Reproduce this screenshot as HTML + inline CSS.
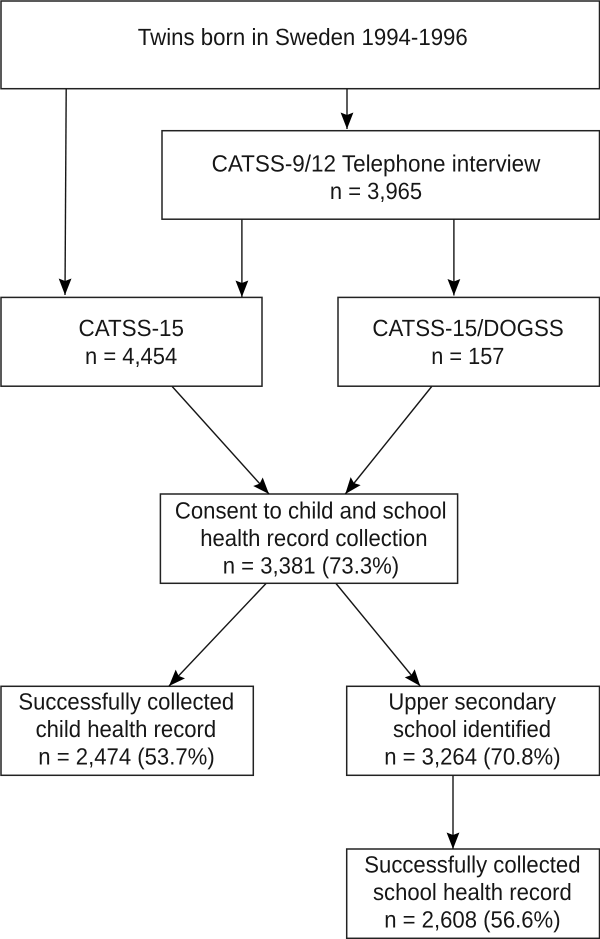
<!DOCTYPE html>
<html lang="en"><head><meta charset="utf-8"><title>Flow diagram</title>
<style>html,body{margin:0;padding:0;background:#fff}svg{display:block}
text{font-family:"Liberation Sans",Arial,sans-serif;font-size:23.5px;fill:#161616;text-rendering:geometricPrecision}
rect{fill:#fff;stroke:#222;stroke-width:1.5}
line{stroke:#161616;stroke-width:1.4}
</style></head><body>
<svg width="600" height="939" viewBox="0 0 600 939" xmlns="http://www.w3.org/2000/svg">
<defs><marker id="a" markerUnits="userSpaceOnUse" markerWidth="20" markerHeight="16" refX="17" refY="8" orient="auto" viewBox="0 0 20 16"><path d="M0.5 1.6L17 8L0.5 14.4L3 8Z" fill="#000"/></marker></defs>
<rect x="1" y="1" width="598.5" height="87.7"/>
<rect x="162" y="130.7" width="437.5" height="88.5"/>
<rect x="1" y="297.4" width="261" height="88.8"/>
<rect x="338" y="297.4" width="261.5" height="88.8"/>
<rect x="160.4" y="494" width="297.2" height="89.3"/>
<rect x="1" y="686.3" width="252.3" height="89"/>
<rect x="346.7" y="686.3" width="252.8" height="89"/>
<rect x="346.7" y="849" width="252.8" height="89.3"/>
<line x1="66.2" y1="89" x2="65" y2="295" marker-end="url(#a)"/>
<line x1="347" y1="89" x2="347" y2="129" marker-end="url(#a)"/>
<line x1="241.9" y1="219.5" x2="241.9" y2="297" marker-end="url(#a)"/>
<line x1="453.9" y1="219.5" x2="453.9" y2="295.5" marker-end="url(#a)"/>
<line x1="172.2" y1="386.5" x2="269" y2="494" marker-end="url(#a)"/>
<line x1="431.7" y1="386.5" x2="345.3" y2="494" marker-end="url(#a)"/>
<line x1="266" y1="583.5" x2="169" y2="686" marker-end="url(#a)"/>
<line x1="336" y1="583.5" x2="420.2" y2="686" marker-end="url(#a)"/>
<line x1="453" y1="775.5" x2="453" y2="849" marker-end="url(#a)"/>
<text x="137.8" y="45" textLength="330" lengthAdjust="spacingAndGlyphs">Twins born in Sweden 1994-1996</text>
<text x="211.6" y="171.3" textLength="328.8" lengthAdjust="spacingAndGlyphs">CATSS-9/12 Telephone interview</text>
<text x="329.9" y="199" textLength="92.2" lengthAdjust="spacingAndGlyphs">n = 3,965</text>
<text x="78.5" y="336" textLength="105.5" lengthAdjust="spacingAndGlyphs">CATSS-15</text>
<text x="85" y="364" textLength="92.2" lengthAdjust="spacingAndGlyphs">n = 4,454</text>
<text x="372.4" y="336" textLength="191.3" lengthAdjust="spacingAndGlyphs">CATSS-15/DOGSS</text>
<text x="431.3" y="364" textLength="73.1" lengthAdjust="spacingAndGlyphs">n = 157</text>
<text x="174.9" y="518.3" textLength="271.7" lengthAdjust="spacingAndGlyphs">Consent to child and school</text>
<text x="200.2" y="546" textLength="227.3" lengthAdjust="spacingAndGlyphs">health record collection</text>
<text x="222.7" y="573.5" textLength="176.5" lengthAdjust="spacingAndGlyphs">n = 3,381 (73.3%)</text>
<text x="18.4" y="709.3" textLength="215.8" lengthAdjust="spacingAndGlyphs">Successfully collected</text>
<text x="35.6" y="737" textLength="180.6" lengthAdjust="spacingAndGlyphs">child health record</text>
<text x="38.3" y="764.3" textLength="176.4" lengthAdjust="spacingAndGlyphs">n = 2,474 (53.7%)</text>
<text x="388.4" y="709.3" textLength="167.6" lengthAdjust="spacingAndGlyphs">Upper secondary</text>
<text x="393" y="737" textLength="158" lengthAdjust="spacingAndGlyphs">school identified</text>
<text x="384.2" y="764.3" textLength="176.4" lengthAdjust="spacingAndGlyphs">n = 3,264 (70.8%)</text>
<text x="364.3" y="872.3" textLength="216.2" lengthAdjust="spacingAndGlyphs">Successfully collected</text>
<text x="373" y="900" textLength="198.8" lengthAdjust="spacingAndGlyphs">school health record</text>
<text x="384.2" y="927.3" textLength="176.4" lengthAdjust="spacingAndGlyphs">n = 2,608 (56.6%)</text>
</svg>
</body></html>
